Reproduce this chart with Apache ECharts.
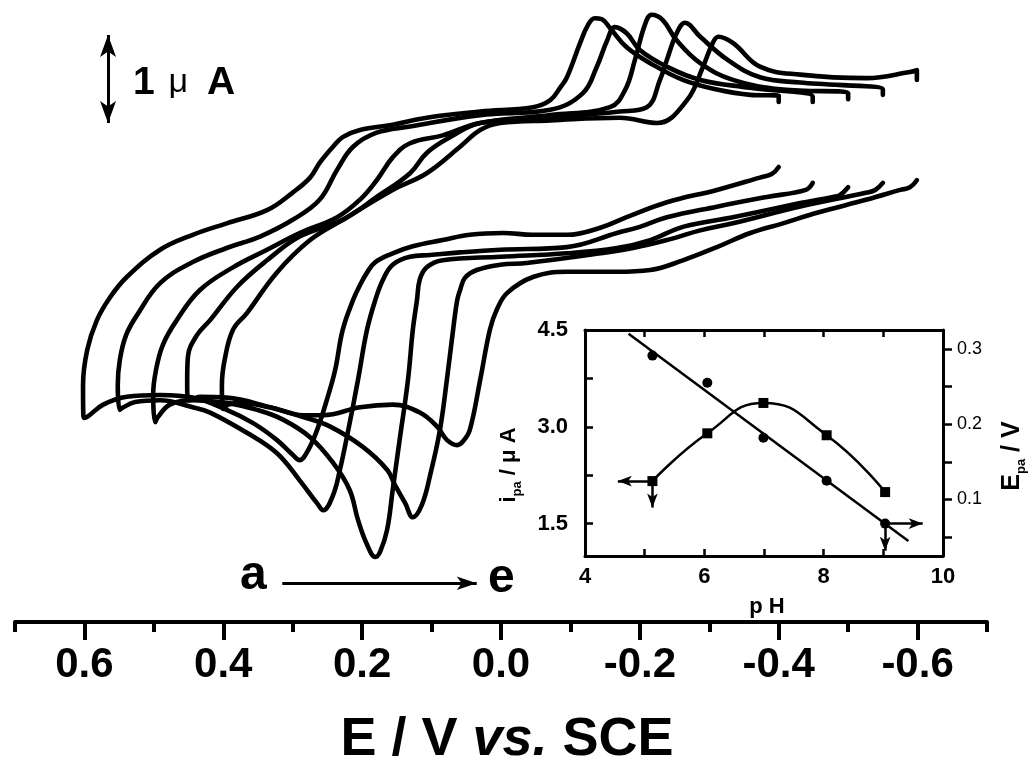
<!DOCTYPE html>
<html><head><meta charset="utf-8">
<script src="https://cdn.jsdelivr.net/npm/echarts@6/dist/echarts.min.js"></script>
<style>html,body{margin:0;padding:0;background:#fff}#c{width:1029px;height:759px}</style>
</head><body><div id="c"></div>
<script>
const FONT = "'Liberation Sans', Arial, Helvetica, sans-serif";

// ---- main CV curves: [E (V vs SCE), current (µA, arbitrary offset)] ----
const curveA = [[-0.400,5.17],[-0.390,5.09],[-0.373,5.05],[-0.311,4.91],[-0.239,4.77],[-0.181,4.60],[-0.143,4.48],[-0.095,4.40],[-0.046,4.40],[-0.003,4.42],[0.045,4.40],[0.084,4.34],[0.127,4.27],[0.156,4.19],[0.181,4.09],[0.193,3.97],[0.203,3.83],[0.213,3.66],[0.228,3.32],[0.239,2.86],[0.251,2.52],[0.265,2.18],[0.278,1.95],[0.290,1.84],[0.300,1.90],[0.323,2.07],[0.357,2.26],[0.395,2.41],[0.444,2.55],[0.491,2.58],[0.539,2.56],[0.573,2.47],[0.596,2.33],[0.601,2.32],[0.602,2.69],[0.596,3.09],[0.582,3.43],[0.563,3.69],[0.539,3.92],[0.491,4.23],[0.444,4.40],[0.395,4.53],[0.337,4.68],[0.300,4.88],[0.275,5.05],[0.261,5.22],[0.242,5.40],[0.228,5.51],[0.203,5.59],[0.156,5.65],[0.107,5.73],[0.030,5.80],[-0.046,5.85],[-0.071,5.93],[-0.085,6.07],[-0.095,6.19],[-0.114,6.58],[-0.125,6.78],[-0.135,6.86],[-0.145,6.85],[-0.157,6.75],[-0.181,6.53],[-0.215,6.35],[-0.262,6.16],[-0.311,6.05],[-0.359,5.99],[-0.400,5.98],[-0.400,5.91]];
const curveB = [[-0.449,4.99],[-0.439,4.91],[-0.383,4.83],[-0.311,4.72],[-0.239,4.60],[-0.200,4.49],[-0.167,4.42],[-0.095,4.26],[0.001,4.23],[0.059,4.20],[0.102,4.17],[0.131,4.15],[0.156,4.06],[0.170,3.89],[0.181,3.66],[0.193,3.32],[0.206,2.75],[0.220,2.18],[0.232,1.73],[0.242,1.44],[0.256,1.27],[0.265,1.35],[0.290,1.61],[0.323,1.92],[0.366,2.15],[0.419,2.38],[0.444,2.44],[0.491,2.52],[0.527,2.50],[0.546,2.43],[0.549,2.41],[0.552,2.69],[0.549,2.98],[0.540,3.26],[0.524,3.49],[0.491,3.85],[0.444,4.09],[0.395,4.25],[0.347,4.38],[0.300,4.57],[0.261,4.80],[0.236,5.14],[0.213,5.40],[0.179,5.56],[0.131,5.63],[0.030,5.76],[-0.071,5.82],[-0.118,6.01],[-0.138,6.31],[-0.153,6.61],[-0.164,6.76],[-0.181,6.69],[-0.200,6.50],[-0.239,6.31],[-0.287,6.16],[-0.359,6.07],[-0.449,5.97],[-0.449,5.91]];
const curveC = [[-0.500,4.94],[-0.488,4.85],[-0.478,4.83],[-0.431,4.76],[-0.334,4.60],[-0.262,4.49],[-0.215,4.34],[-0.167,4.25],[-0.095,4.19],[0.001,4.15],[0.084,4.11],[0.107,4.03],[0.117,3.89],[0.121,3.66],[0.127,3.32],[0.134,2.75],[0.146,2.07],[0.156,1.50],[0.164,1.05],[0.174,0.80],[0.181,0.74],[0.193,0.88],[0.206,1.16],[0.218,1.50],[0.242,1.81],[0.275,2.10],[0.314,2.30],[0.351,2.41],[0.395,2.49],[0.444,2.52],[0.477,2.47],[0.495,2.32],[0.498,2.27],[0.501,2.58],[0.497,2.86],[0.487,3.15],[0.467,3.43],[0.434,3.77],[0.386,4.03],[0.337,4.23],[0.290,4.42],[0.236,4.60],[0.203,4.80],[0.179,5.02],[0.156,5.28],[0.131,5.44],[0.084,5.53],[0.030,5.67],[-0.071,5.76],[-0.157,5.85],[-0.179,6.05],[-0.193,6.39],[-0.207,6.78],[-0.217,6.90],[-0.233,6.84],[-0.253,6.61],[-0.287,6.35],[-0.334,6.16],[-0.406,6.05],[-0.500,6.01],[-0.500,5.94]];
const curveD = [[-0.550,4.99],[-0.539,4.91],[-0.527,4.88],[-0.431,4.72],[-0.334,4.53],[-0.287,4.45],[-0.239,4.34],[-0.190,4.25],[-0.143,4.19],[-0.037,4.08],[0.001,4.06],[0.035,4.00],[0.052,3.91],[0.059,3.77],[0.063,3.66],[0.069,3.32],[0.078,2.75],[0.088,2.18],[0.102,1.67],[0.114,1.33],[0.127,1.19],[0.138,1.35],[0.153,1.56],[0.164,1.73],[0.199,1.99],[0.246,2.22],[0.285,2.33],[0.333,2.44],[0.395,2.55],[0.434,2.56],[0.448,2.52],[0.451,2.52],[0.452,2.75],[0.451,3.01],[0.438,3.26],[0.419,3.43],[0.380,3.81],[0.337,4.11],[0.290,4.38],[0.228,4.57],[0.179,4.83],[0.131,5.10],[0.107,5.33],[0.073,5.51],[0.030,5.67],[-0.071,5.73],[-0.171,5.80],[-0.210,5.85],[-0.229,6.16],[-0.239,6.39],[-0.253,6.69],[-0.265,6.81],[-0.287,6.65],[-0.326,6.39],[-0.373,6.19],[-0.431,6.13],[-0.550,6.05],[-0.550,5.99]];
const curveE = [[-0.599,5.02],[-0.589,4.94],[-0.575,4.91],[-0.527,4.80],[-0.455,4.65],[-0.406,4.53],[-0.359,4.42],[-0.311,4.26],[-0.262,4.11],[-0.215,4.00],[-0.167,3.98],[-0.095,3.98],[-0.046,3.92],[-0.009,3.74],[0.006,3.55],[0.016,3.32],[0.030,2.75],[0.045,2.18],[0.055,2.05],[0.063,2.01],[0.078,2.07],[0.092,2.22],[0.117,2.38],[0.156,2.47],[0.203,2.44],[0.256,2.35],[0.285,2.35],[0.333,2.44],[0.376,2.49],[0.393,2.47],[0.400,2.42],[0.402,2.69],[0.398,2.98],[0.386,3.32],[0.366,3.51],[0.323,3.97],[0.275,4.34],[0.228,4.57],[0.156,4.91],[0.107,5.10],[0.059,5.40],[0.030,5.59],[0.001,5.67],[-0.071,5.70],[-0.171,5.73],[-0.225,5.67],[-0.268,5.93],[-0.291,6.31],[-0.305,6.58],[-0.313,6.65],[-0.334,6.58],[-0.373,6.31],[-0.431,6.22],[-0.527,6.18],[-0.589,6.25],[-0.599,6.27],[-0.599,6.16]];

// main axis ticks / labels
const xMajor = [-0.6, -0.4, -0.2, 0, 0.2, 0.4, 0.6];
const xMinor = [-0.7, -0.5, -0.3, -0.1, 0.1, 0.3, 0.5, 0.7];

// ---- inset data ----
const pH  = [5.13, 6.05, 6.99, 8.05, 9.03];
const ipa = [2.16, 2.90, 3.37, 2.87, 1.99];      // µA, left axis (squares)
const Epa = [0.291, 0.255, 0.182, 0.125, 0.068]; // V, right axis (circles)
const fitPH = [4.73, 9.42];
const fitE  = [0.320, 0.045];
const insetLeftTicks = [1.5, 2.25, 3.0, 3.75, 4.5];
const insetLeftLabels = [1.5, 3.0, 4.5];
const insetRightTicks = [0.05, 0.1, 0.15, 0.2, 0.25, 0.3];
const insetRightLabels = [0.1, 0.2, 0.3];

const chart = echarts.init(document.getElementById('c'), null, {renderer: 'canvas'});

const cv = (name, data, extra) => Object.assign({
  name, type: 'line', xAxisIndex: 0, yAxisIndex: 0, data,
  showSymbol: false, symbol: 'none', smooth: 0.4, clip: false, silent: true,
  lineStyle: {color: '#000', width: 4.6, cap: 'round', join: 'round'}
}, extra || {});

const arrowML = (pairs, sym, size, width) => ({
  silent: true, animation: false,
  symbol: sym, symbolSize: size,
  label: {show: false},
  lineStyle: {color: '#000', width: width, type: 'solid', opacity: 1},
  data: pairs.map(p => [{coord: p[0]}, {coord: p[1]}])
});

const option = {
  animation: false,
  backgroundColor: '#fff',
  grid: [
    {left: 15, right: 42, top: 0, bottom: 137},
    {left: 585, right: 86, top: 330, bottom: 203}
  ],
  xAxis: [
    {gridIndex: 0, type: 'value', min: -0.7, max: 0.7, inverse: true, position: 'bottom',
     axisLine: {show: true, lineStyle: {color: '#000', width: 4}},
     axisTick: {show: true, customValues: xMajor, length: 18, inside: false, lineStyle: {color: '#000', width: 4}},
     axisLabel: {show: true, customValues: xMajor, formatter: v => Number(v).toFixed(1),
       fontSize: 42, fontWeight: 'bold', fontFamily: FONT, color: '#000', margin: 22},
     splitLine: {show: false}},
    {gridIndex: 0, type: 'value', min: -0.7, max: 0.7, inverse: true, position: 'bottom',
     axisLine: {show: false},
     axisTick: {show: true, customValues: xMinor, length: 10, inside: false, lineStyle: {color: '#000', width: 4}},
     axisLabel: {show: false}, splitLine: {show: false}},
    {gridIndex: 1, type: 'value', min: 4, max: 10, interval: 1, position: 'bottom',
     axisLine: {show: true, onZero: false, lineStyle: {color: '#000', width: 3}},
     axisTick: {show: true, inside: true, length: 7, lineStyle: {color: '#000', width: 2.5}},
     axisLabel: {formatter: v => (v % 2 === 0 ? String(v) : ''), fontSize: 22, fontWeight: 'bold', fontFamily: FONT, color: '#000', margin: 10},
     splitLine: {show: false}},
    {gridIndex: 1, type: 'value', min: 4, max: 10, interval: 1, position: 'top',
     axisLine: {show: true, onZero: false, lineStyle: {color: '#000', width: 3}},
     axisTick: {show: true, inside: true, length: 7, lineStyle: {color: '#000', width: 2.5}},
     axisLabel: {show: false}, splitLine: {show: false}}
  ],
  yAxis: [
    {gridIndex: 0, type: 'value', min: 0, max: 7.068, show: false},
    {gridIndex: 1, type: 'value', min: 1.0, max: 4.5, position: 'left',
     axisLine: {show: true, onZero: false, lineStyle: {color: '#000', width: 3}},
     axisTick: {show: true, inside: true, length: 8, customValues: insetLeftTicks, lineStyle: {color: '#000', width: 2.5}},
     axisLabel: {customValues: insetLeftLabels, formatter: v => Number(v).toFixed(1), fontSize: 22, fontWeight: 'bold', fontFamily: FONT, color: '#000', margin: 17},
     splitLine: {show: false}},
    {gridIndex: 1, type: 'value', min: 0.025, max: 0.325, position: 'right',
     axisLine: {show: true, onZero: false, lineStyle: {color: '#000', width: 3}},
     axisTick: {show: true, inside: false, length: 9, customValues: insetRightTicks, lineStyle: {color: '#000', width: 2.5}},
     axisLabel: {customValues: insetRightLabels, formatter: v => Number(v).toFixed(1), fontSize: 18, fontFamily: FONT, color: '#000', margin: 14},
     splitLine: {show: false}}
  ],
  series: [
    cv('a', curveA, {markLine: {
      silent: true, animation: false, label: {show: false},
      lineStyle: {color: '#000', width: 3, type: 'solid', opacity: 1},
      data: [
        [{coord: [0.566, 6.67], symbol: 'arrow', symbolSize: [12, 22]}, {coord: [0.566, 5.67], symbol: 'arrow', symbolSize: [12, 22]}],
        [{coord: [0.315, 0.44], symbol: 'none'}, {coord: [0.035, 0.44], symbol: 'arrow', symbolSize: [10, 20]}]
      ]}}),
    cv('b', curveB),
    cv('c', curveC),
    cv('d', curveD),
    cv('e', curveE),
    {name: 'ipa', type: 'line', xAxisIndex: 2, yAxisIndex: 1,
     data: pH.map((p, i) => [p, ipa[i]]), smooth: 0.5,
     symbol: 'rect', symbolSize: 10, showSymbol: true, z: 4,
     itemStyle: {color: '#000', opacity: 1}, lineStyle: {color: '#000', width: 2.5},
     markLine: arrowML([[[pH[0], ipa[0]], [4.55, ipa[0]]], [[pH[0], ipa[0]], [pH[0], 1.75]]], ['none', 'arrow'], [8, 14], 2.5)},
    {name: 'Epa', type: 'scatter', xAxisIndex: 2, yAxisIndex: 2,
     data: pH.map((p, i) => [p, Epa[i]]), symbol: 'circle', symbolSize: 10, z: 4,
     itemStyle: {color: '#000', opacity: 1},
     markLine: arrowML([[[pH[4], Epa[4]], [9.66, Epa[4]]], [[pH[4], Epa[4]], [pH[4], 0.032]]], ['none', 'arrow'], [8, 14], 2.5)},
    {name: 'fit', type: 'line', xAxisIndex: 2, yAxisIndex: 2,
     data: fitPH.map((p, i) => [p, fitE[i]]), showSymbol: false, symbol: 'none',
     lineStyle: {color: '#000', width: 2.5}}
  ],
  graphic: [
    {type: 'text', x: 133, y: 83, style: {
      text: '{a|1 }{m|μ}{a| A}', align: 'left', verticalAlign: 'middle', fill: '#000',
      rich: {a: {fontSize: 39, fontWeight: 'bold', fontFamily: FONT, fill: '#000'},
             m: {fontSize: 34, fontWeight: 'normal', fontFamily: FONT, fill: '#000', padding: [0, 8, 0, 3]}}}},
    {type: 'text', x: 240, y: 576, style: {text: 'a', fontSize: 48, fontWeight: 'bold', fontFamily: FONT, fill: '#000', align: 'left', verticalAlign: 'middle'}},
    {type: 'text', x: 488, y: 579, style: {text: 'e', fontSize: 48, fontWeight: 'bold', fontFamily: FONT, fill: '#000', align: 'left', verticalAlign: 'middle'}},
    {type: 'text', x: 507, y: 740, style: {
      text: '{a|E / V }{i|vs.}{a| SCE}', align: 'center', verticalAlign: 'middle', fill: '#000',
      rich: {a: {fontSize: 54, fontWeight: 'bold', fontFamily: FONT, fill: '#000'},
             i: {fontSize: 54, fontWeight: 'bold', fontStyle: 'italic', fontFamily: FONT, fill: '#000'}}}},
    {type: 'text', x: 767, y: 607, style: {text: 'p H', fontSize: 22, fontWeight: 'bold', fontFamily: FONT, fill: '#000', align: 'center', verticalAlign: 'middle'}},
    {type: 'text', x: 509, y: 465, rotation: Math.PI / 2, style: {
      text: '{b|i}{s|pa}{b| / μ A}', align: 'center', verticalAlign: 'middle', fill: '#000',
      rich: {b: {fontSize: 22, lineHeight: 22, fontWeight: 'bold', fontFamily: FONT, fill: '#000', verticalAlign: 'top'},
             s: {fontSize: 13, lineHeight: 13, fontWeight: 'bold', fontFamily: FONT, fill: '#000', verticalAlign: 'top', padding: [13, 0, 0, 0]}}}},
    {type: 'text', x: 1012, y: 456, rotation: Math.PI / 2, style: {
      text: '{b|E}{s|pa}{b| / V}', align: 'center', verticalAlign: 'middle', fill: '#000',
      rich: {b: {fontSize: 25, lineHeight: 25, fontWeight: 'bold', fontFamily: FONT, fill: '#000', verticalAlign: 'top'},
             s: {fontSize: 13, lineHeight: 13, fontWeight: 'bold', fontFamily: FONT, fill: '#000', verticalAlign: 'top', padding: [15, 0, 0, 0]}}}}
  ]
};
chart.setOption(option);
</script>
</body></html>
